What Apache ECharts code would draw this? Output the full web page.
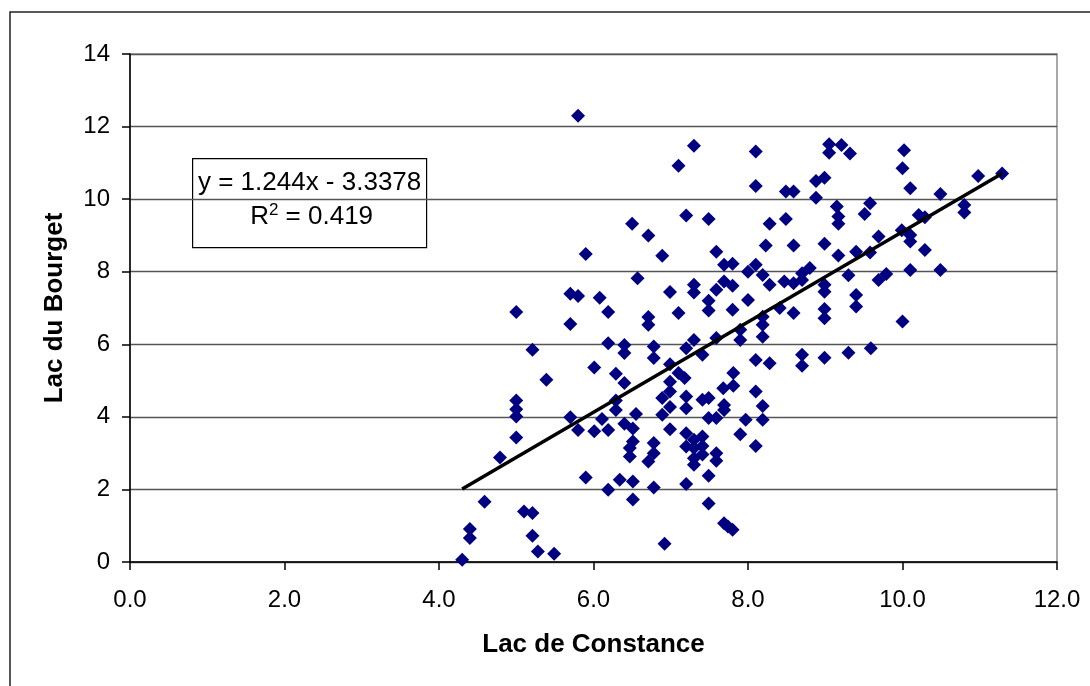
<!DOCTYPE html>
<html>
<head>
<meta charset="utf-8">
<script src="https://cdn.jsdelivr.net/npm/echarts@6/dist/echarts.min.js"></script>
<style>
  html, body { margin: 0; padding: 0; background: #fff; }
  #chart { width: 1090px; height: 686px; }
</style>
</head>
<body>
<div id="chart"></div>
<script>
// Lac de Constance (x) vs Lac du Bourget (y)
const constance = [
  5.80, 6.50, 5.90, 6.57, 5.70, 5.80, 6.08, 5.00, 6.19, 5.70,
  6.19, 6.40, 6.40, 5.21, 6.01, 6.29, 6.40, 5.39, 5.00, 5.00,
  5.00, 6.29, 6.29, 5.70, 5.80, 6.01, 6.11, 6.19, 6.40, 6.55,
  6.51, 6.51, 6.47, 6.47, 5.00, 4.79, 5.90, 6.19, 6.34, 6.51,
  6.51, 4.59, 5.10, 5.21, 4.40, 4.40, 5.21, 5.28, 5.49, 4.30,
  7.30, 7.10, 8.10, 8.10, 8.49, 8.59, 8.88, 8.99, 8.88, 9.05,
  9.05, 9.15, 7.20, 7.49, 8.28, 8.49, 6.71, 6.89, 7.59, 8.23,
  8.59, 8.99, 7.69, 7.80, 8.10, 8.00, 8.19, 8.28, 8.47, 8.59,
  8.70, 8.80, 8.70, 8.99, 8.99, 8.99, 8.99, 7.30, 7.30, 6.99,
  7.69, 7.59, 7.80, 7.49, 7.49, 8.00, 7.80, 7.10, 6.71, 6.71,
  8.41, 8.59, 8.19, 8.19, 7.90, 7.30, 7.59, 8.19,
  6.78, 6.78, 7.20, 7.41, 8.10, 8.28, 8.70, 8.70, 8.99, 6.99,
  7.10, 7.18, 6.99, 6.99, 6.89, 7.20, 7.20, 6.99, 6.89, 7.41,
  7.49, 7.68, 7.81, 7.81, 7.69, 7.69, 7.49, 7.59, 8.10, 8.19,
  7.97, 8.19, 6.99, 7.90, 8.10, 7.20, 7.20, 7.30, 7.41, 7.30,
  7.41, 7.41, 7.30, 7.30, 7.59, 7.59, 6.78, 6.78, 6.71, 7.49,
  7.20, 6.78, 7.49, 7.69, 7.74, 7.80, 6.92, 7.90,
  9.21, 9.32, 10.02, 10.00, 10.10, 10.49, 10.98, 11.29, 9.58, 9.51,
  9.17, 9.17, 10.21, 10.29, 10.80, 10.80, 9.69, 9.17, 9.40, 9.58,
  9.99, 10.10, 10.10, 10.29, 9.30, 9.69, 9.79, 10.10, 10.49, 9.40,
  9.40, 10.00, 9.30, 9.59
];
const bourget = [
  12.30, 9.32, 8.49, 7.82, 7.39, 7.33, 7.28, 6.89, 6.89, 6.56,
  6.03, 5.98, 5.76, 5.85, 5.36, 5.19, 4.93, 5.02, 4.45, 4.21,
  4.01, 4.45, 4.19, 3.99, 3.64, 3.60, 3.94, 3.64, 3.81, 4.08,
  3.68, 3.32, 3.14, 2.91, 3.43, 2.88, 2.33, 1.99, 2.27, 2.22,
  1.72, 1.66, 1.39, 1.35, 0.91, 0.66, 0.72, 0.29, 0.23, 0.06,
  11.47, 10.92, 11.31, 10.36, 10.21, 10.21, 10.50, 10.59, 10.04, 11.51,
  11.28, 9.80, 9.55, 9.45, 9.32, 9.45, 9.00, 8.44, 8.55, 8.72,
  8.72, 8.77, 8.19, 8.22, 8.19, 8.00, 7.91, 7.64, 7.73, 7.68,
  7.96, 8.10, 7.77, 7.64, 7.45, 6.97, 6.72, 7.64, 7.43, 7.44,
  7.73, 7.50, 7.61, 7.20, 6.93, 7.22, 6.95, 6.86, 6.75, 6.54,
  7.00, 6.86, 6.76, 6.54, 6.40, 6.12, 6.17, 6.21,
  5.94, 5.62, 5.89, 5.71, 5.57, 5.48, 5.71, 5.41, 5.63, 5.45,
  5.21, 5.07, 4.97, 4.70, 4.52, 4.56, 4.24, 4.27, 4.06, 4.47,
  4.52, 4.79, 5.21, 4.86, 4.33, 4.19, 3.97, 3.97, 4.70, 4.30,
  3.92, 3.92, 3.66, 3.52, 3.20, 3.55, 3.18, 3.37, 3.46, 3.14,
  3.20, 2.96, 2.86, 2.68, 3.00, 2.79, 3.28, 3.00, 2.77, 2.38,
  2.15, 2.05, 1.61, 1.07, 0.98, 0.89, 0.50, 6.12,
  11.49, 11.26, 11.35, 10.85, 10.30, 10.14, 10.64, 10.71, 9.89, 9.59,
  9.52, 9.32, 9.56, 9.50, 9.84, 9.63, 8.97, 8.45, 8.55, 8.53,
  9.14, 9.01, 8.83, 8.60, 7.90, 7.77, 7.94, 8.05, 8.05, 7.36,
  7.04, 6.63, 5.77, 5.89
];

// Linear trend: y = slope * x + intercept, R² shown in the label box
const trendSlope = 1.244;
const trendIntercept = -3.3378;
const trendR2 = 0.419;

const xTicks = [0, 2, 4, 6, 8, 10, 12];
const yTicks = [0, 2, 4, 6, 8, 10, 12, 14];

const points = constance.map((x, i) => [x, bourget[i]]);
const xMinData = Math.min(...constance);
const xMaxData = Math.max(...constance);
const trendLine = [xMinData, xMaxData].map(x => [x, trendSlope * x + trendIntercept]);

const chart = echarts.init(document.getElementById('chart'), null, { renderer: 'canvas' });

const FONT = '"Liberation Sans", Arial, sans-serif';

chart.setOption({
  animation: false,
  backgroundColor: '#ffffff',
  grid: {
    left: 130, right: 33, top: 54, bottom: 124,
    show: true, borderColor: '#8c8c8c', borderWidth: 1.5, backgroundColor: 'transparent'
  },
  xAxis: {
    type: 'value',
    min: xTicks[0], max: xTicks[xTicks.length - 1], interval: 2,
    name: 'Lac de Constance',
    nameLocation: 'middle', nameGap: 70,
    nameTextStyle: { fontFamily: FONT, fontSize: 26, fontWeight: 'bold', color: '#000' },
    axisLine: { show: true, onZero: false, lineStyle: { color: '#000', width: 1.5 } },
    axisTick: { show: true, length: 8, lineStyle: { color: '#000', width: 1.5 } },
    axisLabel: {
      fontFamily: FONT, fontSize: 24, color: '#000', margin: 26,
      formatter: v => v.toFixed(1)
    },
    splitLine: { show: false }
  },
  yAxis: {
    type: 'value',
    min: yTicks[0], max: yTicks[yTicks.length - 1], interval: 2,
    name: 'Lac du Bourget',
    nameLocation: 'middle', nameGap: 62, nameRotate: 90,
    nameTextStyle: { fontFamily: FONT, fontSize: 26, fontWeight: 'bold', color: '#000' },
    axisLine: { show: true, onZero: false, lineStyle: { color: '#000', width: 1.5 } },
    axisTick: { show: true, length: 8, lineStyle: { color: '#000', width: 1.5 } },
    axisLabel: { fontFamily: FONT, fontSize: 24, color: '#000', margin: 20 },
    splitLine: { show: true, lineStyle: { color: '#555555', width: 1.3 } }
  },
  series: [
    {
      type: 'scatter',
      data: points,
      symbol: 'diamond',
      symbolSize: 14,
      itemStyle: { color: '#000080', opacity: 1 },
      z: 3
    },
    {
      type: 'line',
      data: trendLine,
      symbol: 'none',
      lineStyle: { color: '#000', width: 3.5 },
      z: 4
    }
  ],
  graphic: [
    {
      type: 'rect',
      shape: { x: 10, y: 12, width: 1300, height: 900 },
      style: { fill: 'none', stroke: '#222', lineWidth: 1.5 },
      silent: true, z: 10
    },
    {
      type: 'group',
      left: 192, top: 158, z: 20,
      children: [
        {
          type: 'rect',
          shape: { x: 0, y: 0, width: 234, height: 89 },
          style: { fill: '#fff', stroke: '#000', lineWidth: 1.2 }
        },
        {
          type: 'text',
          x: 117, y: 24,
          style: {
            text: 'y = ' + trendSlope + 'x - ' + Math.abs(trendIntercept),
            font: '26px ' + FONT, fill: '#000',
            align: 'center', verticalAlign: 'middle'
          }
        },
        {
          type: 'text',
          x: 119, y: 58,
          style: {
            text: '{b|R}{s|2}{b| = ' + trendR2 + '}',
            align: 'center', verticalAlign: 'middle',
            rich: {
              b: { font: '26px ' + FONT, fill: '#000', color: '#000' },
              s: { font: '17px ' + FONT, fill: '#000', color: '#000', padding: [0, 0, 12, 0] }
            }
          }
        }
      ]
    }
  ]
});
</script>
</body>
</html>
